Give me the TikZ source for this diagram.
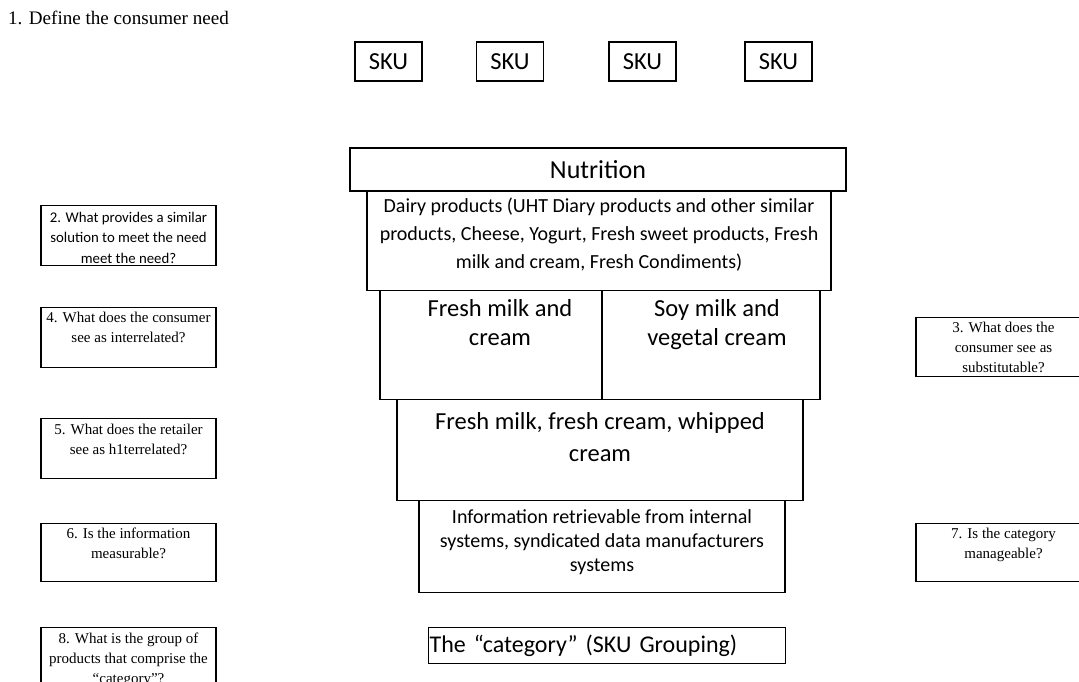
\documentclass[tikz,border=0pt]{standalone}
\usepackage{fontspec}
\setmainfont{Liberation Serif}
\newfontfamily\calibri{Carlito}
\usepackage{tikz}

% text block hanging from the top of a box: width, height, top gap, text
\newcommand{\topbox}[4]{\begin{minipage}[c][#2][t]{#1}\centering\vspace*{#3}\strut#4\end{minipage}}

\begin{document}
\begin{tikzpicture}[
    x=1pt, y=-1pt,
    frame/.style={draw, line width=1.3pt, inner sep=0pt},
    sku/.style={frame, minimum width=67pt, minimum height=39pt, font=\calibri\fontsize{24.5}{29}\selectfont},
    layer/.style={frame, anchor=north},
    question/.style={frame, anchor=north, font=\fontsize{15}{20}\selectfont}
]
\useasboundingbox (0,0) rectangle (1079,682);

\node[anchor=base west, inner sep=0pt, font=\fontsize{19.1}{22}\selectfont] (title) at (8,25) {1. Define the consumer need};

% SKU row
\foreach \x [count=\i] in {388.5,510,642.5,778.5}
    \node[sku] (sku\i) at (\x,61.5) {SKU};

% stacked levels
\node[frame, minimum width=496pt, minimum height=43pt, font=\calibri\fontsize{26}{31}\selectfont] (nutrition) at (598,169.5) {Nutrition};
\node[layer, font=\calibri\fontsize{20}{28}\selectfont] (dairy) at (599,191) {\topbox{464pt}{99pt}{1pt}{Dairy products (UHT Diary products and other similar\\products, Cheese, Yogurt, Fresh sweet products, Fresh\\milk and cream, Fresh Condiments)}};
\node[layer, font=\calibri\fontsize{24.5}{29.5}\selectfont] (freshmilk) at (491,290) {\topbox{222pt}{109pt}{5pt}{\leftskip=18pt plus 1fil Fresh milk and\\cream}};
\node[layer, font=\calibri\fontsize{24.5}{29.5}\selectfont] (soymilk) at (711,290) {\topbox{218pt}{109pt}{5pt}{\leftskip=12pt plus 1fil Soy milk and\\vegetal cream}};
\node[layer, font=\calibri\fontsize{24.5}{32}\selectfont] (creams) at (600,399) {\topbox{406pt}{101pt}{7pt}{Fresh milk, fresh cream, whipped\\cream}};
\node[layer, font=\calibri\fontsize{20}{24}\selectfont] (info) at (602,500) {\topbox{366pt}{92pt}{6pt}{Information retrievable from internal\\systems, syndicated data manufacturers\\systems}};
\node[frame, anchor=north west, minimum height=36pt, text width=355pt, inner xsep=1pt, align=left, font=\calibri\fontsize{24}{29}\selectfont] (category) at (428,627) {The “category” (SKU Grouping)};

% questions, left
\node[question, font=\calibri\fontsize{14.8}{20.4}\selectfont] (q2) at (128.5,205) {\topbox{175pt}{60pt}{2.3pt}{2. What provides a similar\\solution to meet the need\\meet the need?}};
\node[question] (q4) at (128.5,307) {\topbox{175pt}{60pt}{1pt}{4. What does the consumer\\see as interrelated?}};
\node[question] (q5) at (128.5,418) {\topbox{175pt}{60pt}{1.5pt}{5. What does the retailer\\see as h1terrelated?}};
\node[question] (q6) at (128.5,523) {\topbox{175pt}{58pt}{1pt}{6. Is the information\\measurable?}};
\node[question] (q8) at (128.5,627) {\topbox{175pt}{60pt}{1.5pt}{8. What is the group of\\products that comprise the\\“category”?}};

% questions, right
\node[question] (q3) at (1003.5,317) {\topbox{175pt}{59pt}{1pt}{3. What does the\\consumer see as\\substitutable?}};
\node[question] (q7) at (1003.5,523) {\topbox{175pt}{58pt}{1pt}{7. Is the category\\manageable?}};

\end{tikzpicture}
\end{document}
